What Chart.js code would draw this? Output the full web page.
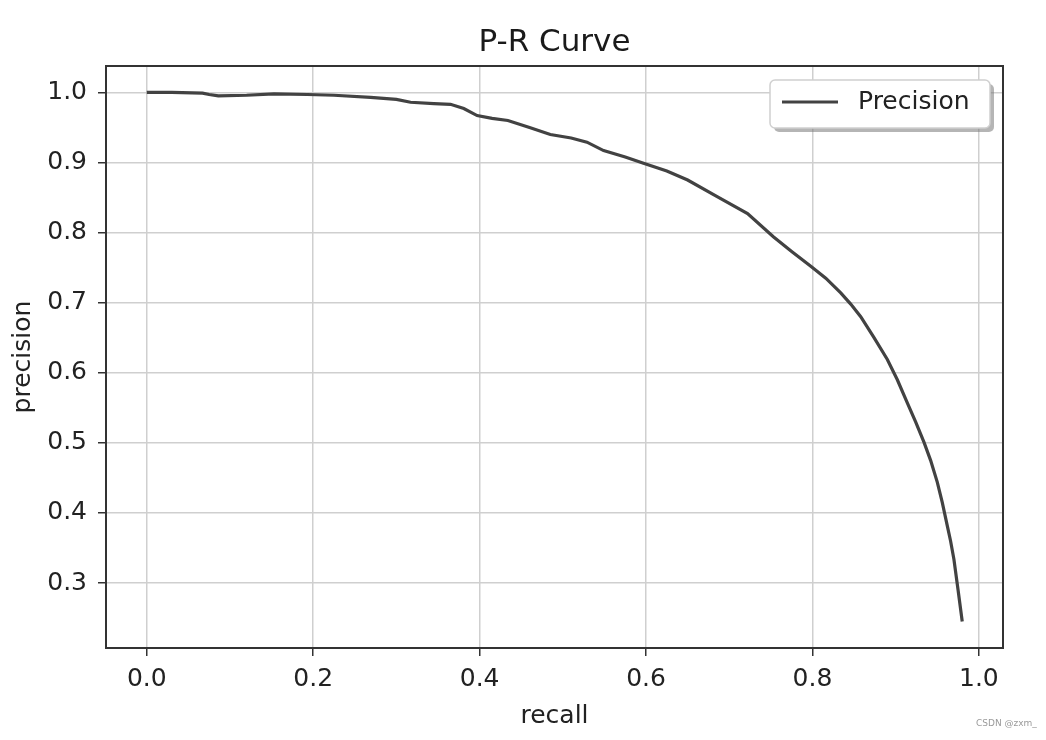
<!DOCTYPE html>
<html>
<head>
<meta charset="utf-8">
<script src="https://cdn.jsdelivr.net/npm/chart.js@4/dist/chart.umd.min.js"></script>
<style>
  html, body { margin: 0; padding: 0; background: #ffffff; }
  #wrap { width: 1046px; height: 740px; }
</style>
</head>
<body>
<div id="wrap"><canvas id="c" width="1046" height="740"></canvas></div>
<script>
// ---- data ----
const recall = [0.0, 0.03, 0.067, 0.075, 0.086, 0.12, 0.153, 0.193, 0.225, 0.269, 0.30, 0.317, 0.345, 0.365, 0.381, 0.397, 0.415, 0.434, 0.46, 0.485, 0.51, 0.529, 0.549, 0.575, 0.597, 0.625, 0.65, 0.686, 0.722, 0.753, 0.775, 0.798, 0.816, 0.834, 0.846, 0.858, 0.874, 0.890, 0.902, 0.914, 0.924, 0.934, 0.942, 0.950, 0.956, 0.962, 0.966, 0.970, 0.975, 0.980];
const precision = [1.0, 1.0, 0.999, 0.997, 0.995, 0.996, 0.998, 0.997, 0.996, 0.993, 0.990, 0.986, 0.984, 0.983, 0.977, 0.967, 0.963, 0.960, 0.950, 0.940, 0.935, 0.929, 0.917, 0.908, 0.899, 0.888, 0.875, 0.851, 0.827, 0.794, 0.773, 0.752, 0.735, 0.714, 0.698, 0.680, 0.650, 0.619, 0.590, 0.557, 0.530, 0.501, 0.475, 0.444, 0.415, 0.382, 0.360, 0.334, 0.290, 0.245];
const xTickValues = [0.0, 0.2, 0.4, 0.6, 0.8, 1.0];
const yTickValues = [0.3, 0.4, 0.5, 0.6, 0.7, 0.8, 0.9, 1.0];
const seriesLabel = 'Precision';
const chartTitle = 'P-R Curve';
const xTitle = 'recall';
const yTitle = 'precision';
const watermark = 'CSDN @zxm_';

const points = recall.map((r, i) => ({ x: r, y: precision[i] }));

Chart.defaults.font.family = "'DejaVu Sans', sans-serif";
Chart.defaults.color = '#222';

const lineColor = '#424242';
const gridColor = '#cfcfcf';
const axisColor = '#333333';

const framePlugin = {
  id: 'frame',
  beforeDatasetsDraw(chart) {
    const { ctx, chartArea: a } = chart;
    ctx.save();
    ctx.strokeStyle = axisColor;
    ctx.lineWidth = 2;
    ctx.strokeRect(a.left, a.top, a.right - a.left, a.bottom - a.top);
    ctx.restore();
  }
};

// title centred over the plot area (as in the reference)
const axesTitlePlugin = {
  id: 'axesTitle',
  afterDraw(chart) {
    const { ctx, chartArea: a } = chart;
    ctx.save();
    ctx.fillStyle = '#1a1a1a';
    ctx.font = "31px 'DejaVu Sans', sans-serif";
    ctx.textAlign = 'center';
    ctx.textBaseline = 'alphabetic';
    ctx.fillText(chartTitle, (a.left + a.right) / 2, 51);
    ctx.restore();
  }
};

const legendBoxPlugin = {
  id: 'legendBox',
  afterDraw(chart) {
    const { ctx } = chart;
    const ds = chart.data.datasets[0];
    const x = 770, y = 80, w = 220, h = 48, r = 5;
    ctx.save();
    // shadow
    ctx.fillStyle = 'rgba(120,120,120,0.55)';
    ctx.beginPath();
    ctx.roundRect(x + 4, y + 4, w, h, r);
    ctx.fill();
    // box
    ctx.fillStyle = '#ffffff';
    ctx.strokeStyle = '#d0d0d0';
    ctx.lineWidth = 1.5;
    ctx.beginPath();
    ctx.roundRect(x, y, w, h, r);
    ctx.fill();
    ctx.stroke();
    // sample line
    ctx.strokeStyle = ds.borderColor;
    ctx.lineWidth = 3;
    ctx.beginPath();
    ctx.moveTo(782, y + 22);
    ctx.lineTo(838, y + 22);
    ctx.stroke();
    // label
    ctx.fillStyle = '#222';
    ctx.font = "25px 'DejaVu Sans', sans-serif";
    ctx.textBaseline = 'middle';
    ctx.textAlign = 'left';
    ctx.fillText(ds.label, 858, y + 22);
    // watermark
    ctx.fillStyle = '#9a9a9a';
    ctx.font = "9px 'DejaVu Sans', sans-serif";
    ctx.fillText(watermark, 976, 724);
    ctx.restore();
  }
};

new Chart(document.getElementById('c'), {
  type: 'line',
  data: {
    datasets: [{
      label: seriesLabel,
      data: points,
      borderColor: lineColor,
      backgroundColor: lineColor,
      borderWidth: 3.2,
      pointRadius: 0,
      tension: 0,
      fill: false
    }]
  },
  options: {
    responsive: false,
    animation: false,
    layout: { padding: { left: 0, right: 43, top: 66, bottom: 0 } },
    plugins: {
      legend: { display: false },
      tooltip: { enabled: false },
      title: { display: false }
    },
    scales: {
      x: {
        type: 'linear',
        min: -0.049,
        max: 1.029,
        afterFit(scale) { scale.height = 92; },
        afterBuildTicks(scale) { scale.ticks = xTickValues.map(v => ({ value: v })); },
        ticks: {
          font: { size: 25 },
          color: '#222',
          padding: 8,
          maxRotation: 0,
          callback: v => Number(v).toFixed(1)
        },
        grid: { color: gridColor, lineWidth: 1.5, tickLength: 8, tickColor: axisColor, tickWidth: 1.5 },
        border: { display: true, color: axisColor, width: 2 },
        title: { display: true, text: xTitle, font: { size: 25 }, color: '#222', padding: { top: 0, bottom: 9 } }
      },
      y: {
        type: 'linear',
        min: 0.2073,
        max: 1.0377,
        afterFit(scale) { scale.width = 106; },
        afterBuildTicks(scale) { scale.ticks = yTickValues.map(v => ({ value: v })); },
        ticks: {
          font: { size: 25 },
          color: '#222',
          padding: 11,
          callback: v => Number(v).toFixed(1)
        },
        grid: { color: gridColor, lineWidth: 1.5, tickLength: 8, tickColor: axisColor, tickWidth: 1.5 },
        border: { display: true, color: axisColor, width: 2 },
        title: { display: true, text: yTitle, font: { size: 25 }, color: '#222', padding: { top: 8, bottom: 0 } }
      }
    }
  },
  plugins: [framePlugin, axesTitlePlugin, legendBoxPlugin]
});
</script>
</body>
</html>
